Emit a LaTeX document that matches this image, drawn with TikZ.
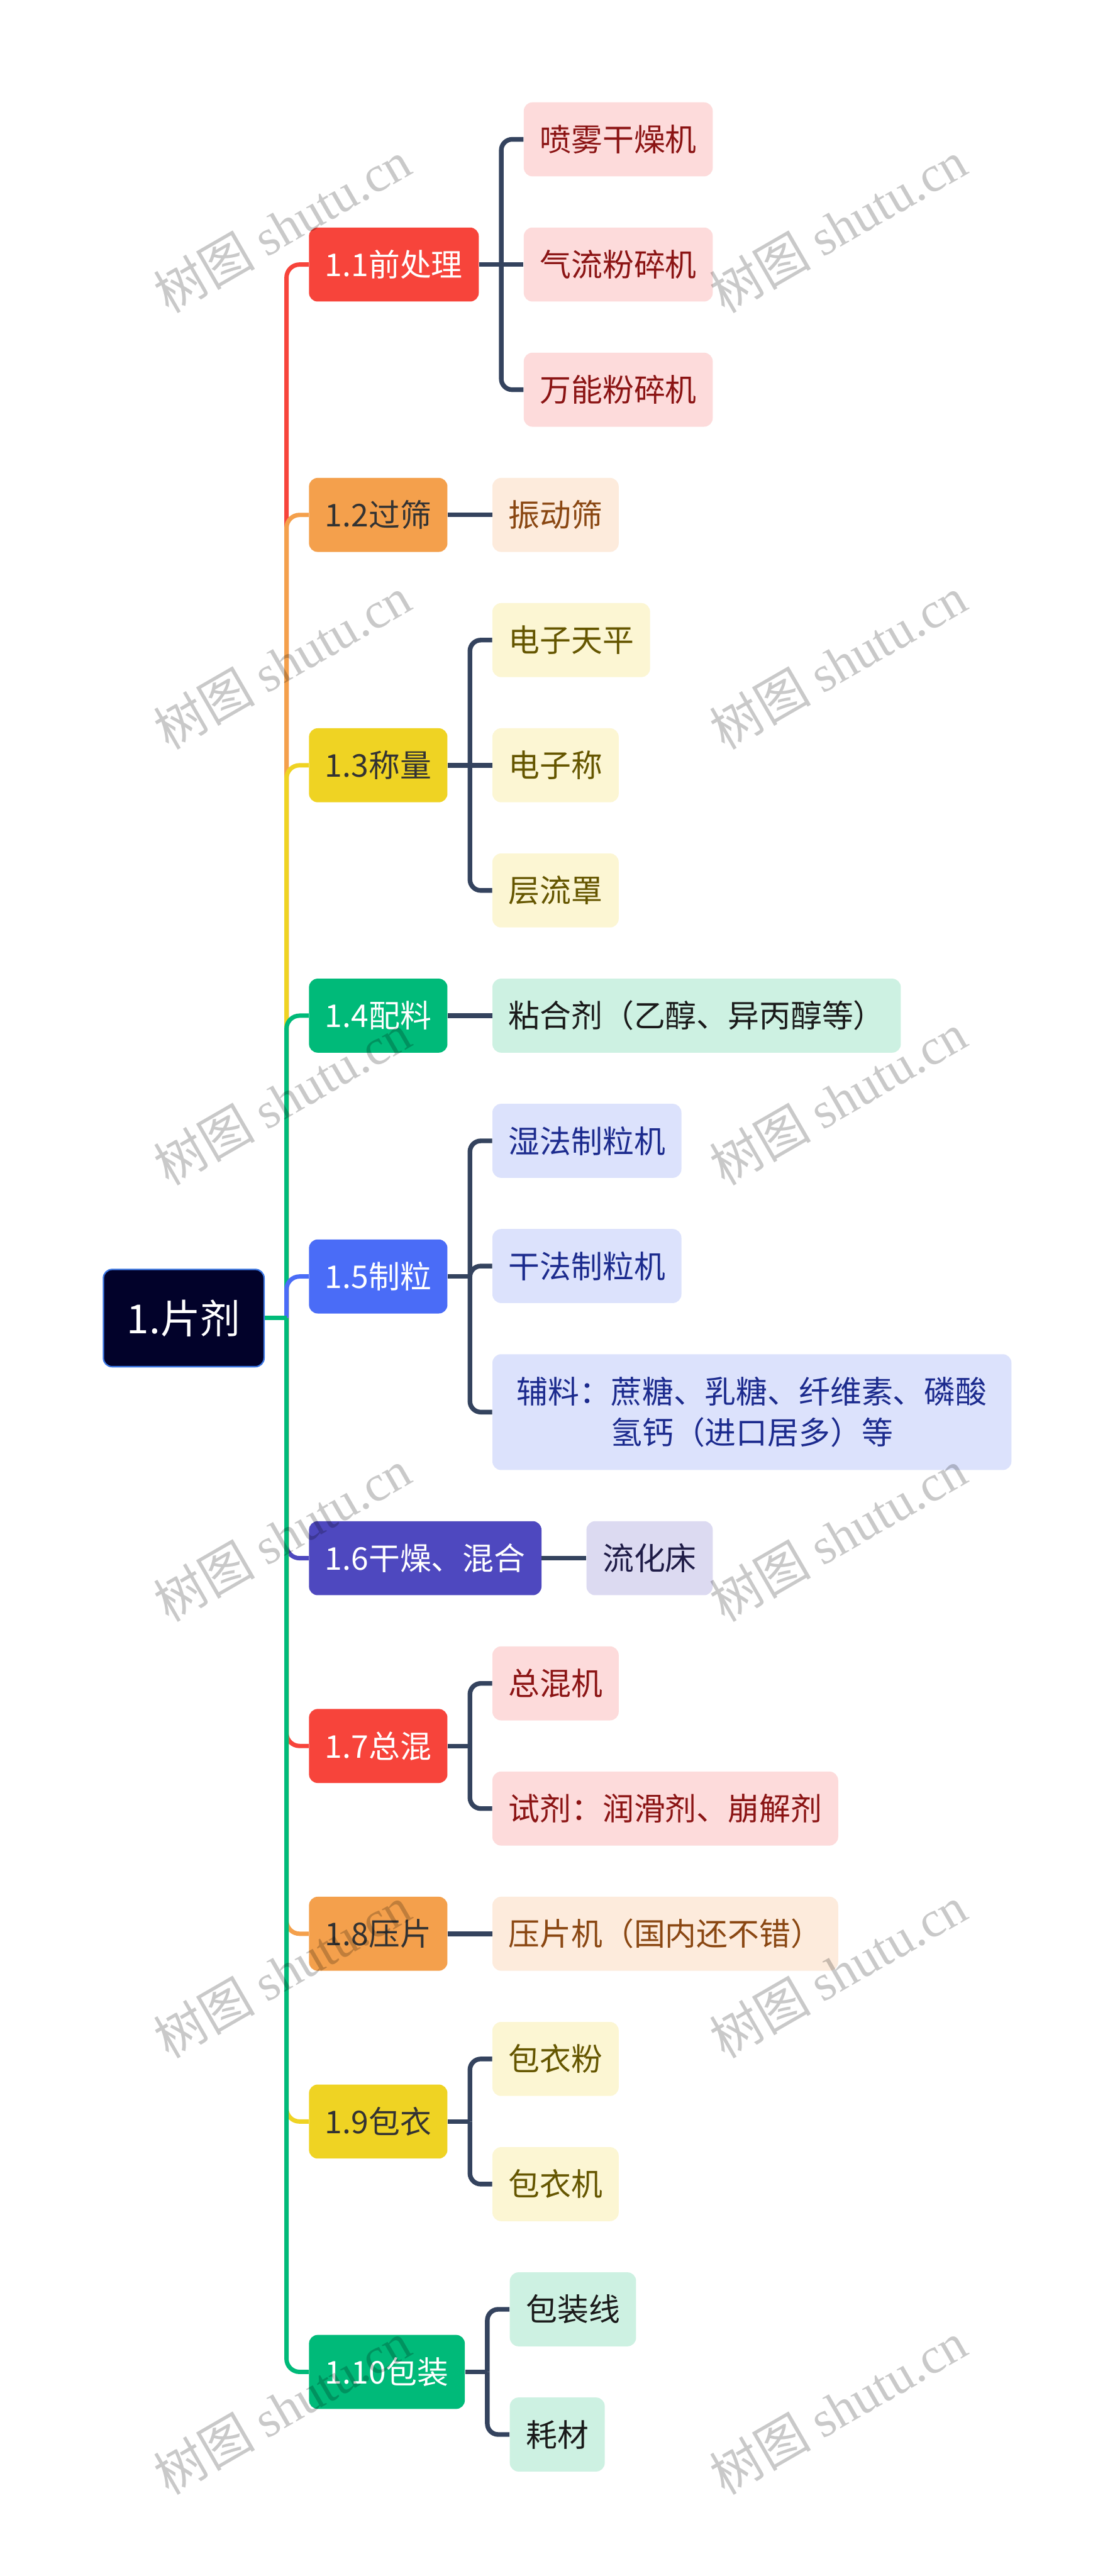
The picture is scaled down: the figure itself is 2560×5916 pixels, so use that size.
\documentclass[tikz,border=0pt]{standalone}
\usepackage{fontspec}
\setmainfont{Noto Sans CJK SC}
\newfontfamily\wmserif{Liberation Serif}
\usetikzlibrary{calc}
\definecolor{cRed}{HTML}{F7443B}
\definecolor{cOrange}{HTML}{F4A04C}
\definecolor{cYellow}{HTML}{EFD323}
\definecolor{cGreen}{HTML}{00BA79}
\definecolor{cBlue}{HTML}{4A6CF7}
\definecolor{cIndigo}{HTML}{4E48BF}
\definecolor{lRed}{HTML}{FDDBDB}
\definecolor{lOrange}{HTML}{FDEBDC}
\definecolor{lYellow}{HTML}{FCF6D3}
\definecolor{lGreen}{HTML}{CDF1E2}
\definecolor{lBlue}{HTML}{DCE2FC}
\definecolor{lIndigo}{HTML}{DCDAF1}
\definecolor{tRed}{HTML}{8B1414}
\definecolor{tOrange}{HTML}{8A4712}
\definecolor{tYellow}{HTML}{655600}
\definecolor{tGreen}{HTML}{1A1A1A}
\definecolor{tBlue}{HTML}{1C2B8E}
\definecolor{tIndigo}{HTML}{1F1C47}
\definecolor{linkc}{HTML}{34435E}
\definecolor{rootfill}{HTML}{02022A}
\definecolor{rootborder}{HTML}{3B76E3}
\definecolor{darktext}{HTML}{333333}
\tikzset{
  nbox/.style={rounded corners=6pt, minimum height=51pt, inner xsep=11.1pt, inner ysep=0pt,
    font=\fontsize{21.6pt}{28.2pt}\selectfont, anchor=west},
  mainbox/.style={nbox, fill=#1},
  leafbox/.style={nbox, fill=#1},
  mainlink/.style={line width=3pt, rounded corners=9pt},
  leaflink/.style={line width=3.2pt, draw=linkc, rounded corners=7.5pt},
  wm/.style={rotate=30, text=black, opacity=0.21, font=\fontsize{35pt}{35pt}\selectfont},
}
\begin{document}
\begin{tikzpicture}[x=0.3pt, y=-0.3pt]
\fill[white] (0,0) rectangle (2560,5916);
\useasboundingbox (0,0) rectangle (2560,5916);

% root
\node[rounded corners=6pt, fill=rootfill, draw=rootborder, line width=1pt, text=white,
  minimum width=110.7pt, minimum height=67pt, inner sep=0pt,
  font=\fontsize{27.6pt}{30pt}\selectfont] (root) at (422,3027) {1.片剂};
\coordinate (trunk) at (658,3027);

% level 1
\node[mainbox=cRed, text=white] (n1) at (709,607.5) {1.1前处理};
\node[mainbox=cOrange, text=darktext] (n2) at (709,1182.5) {1.2过筛};
\node[mainbox=cYellow, text=darktext] (n3) at (709,1757.5) {1.3称量};
\node[mainbox=cGreen, text=white] (n4) at (709,2332.5) {1.4配料};
\node[mainbox=cBlue, text=white] (n5) at (709,2931.5) {1.5制粒};
\node[mainbox=cIndigo, text=white] (n6) at (709,3578.5) {1.6干燥、混合};
\node[mainbox=cRed, text=white] (n7) at (709,4009.75) {1.7总混};
\node[mainbox=cOrange, text=darktext] (n8) at (709,4441) {1.8压片};
\node[mainbox=cYellow, text=darktext] (n9) at (709,4872.25) {1.9包衣};
\node[mainbox=cGreen, text=white] (n10) at (709,5447.25) {1.10包装};

% leaves
\node[leafbox=lRed, text=tRed, xshift=30.6pt] (l1a) at (n1.east |- 0,320) {喷雾干燥机};
\node[leafbox=lRed, text=tRed, xshift=30.6pt] (l1b) at (n1.east |- 0,607.5) {气流粉碎机};
\node[leafbox=lRed, text=tRed, xshift=30.6pt] (l1c) at (n1.east |- 0,895) {万能粉碎机};
\node[leafbox=lOrange, text=tOrange, xshift=30.6pt] (l2a) at (n2.east |- 0,1182.5) {振动筛};
\node[leafbox=lYellow, text=tYellow, xshift=30.6pt] (l3a) at (n3.east |- 0,1470) {电子天平};
\node[leafbox=lYellow, text=tYellow, xshift=30.6pt] (l3b) at (n3.east |- 0,1757.5) {电子称};
\node[leafbox=lYellow, text=tYellow, xshift=30.6pt] (l3c) at (n3.east |- 0,2045) {层流罩};
\node[leafbox=lGreen, text=tGreen, xshift=30.6pt] (l4a) at (n4.east |- 0,2332.5) {粘合剂（乙醇、异丙醇等）};
\node[leafbox=lBlue, text=tBlue, xshift=30.6pt] (l5a) at (n5.east |- 0,2620) {湿法制粒机};
\node[leafbox=lBlue, text=tBlue, xshift=30.6pt] (l5b) at (n5.east |- 0,2907.5) {干法制粒机};
\node[leafbox=lBlue, text=tBlue, xshift=30.6pt, align=center, inner xsep=16.8pt,
  minimum height=79.8pt] (l5c) at (n5.east |- 0,3243) {辅料：蔗糖、乳糖、纤维素、磷酸\\氢钙（进口居多）等};
\node[leafbox=lIndigo, text=tIndigo, xshift=30.6pt] (l6a) at (n6.east |- 0,3578.5) {流化床};
\node[leafbox=lRed, text=tRed, xshift=30.6pt] (l7a) at (n7.east |- 0,3866) {总混机};
\node[leafbox=lRed, text=tRed, xshift=30.6pt] (l7b) at (n7.east |- 0,4153.5) {试剂：润滑剂、崩解剂};
\node[leafbox=lOrange, text=tOrange, xshift=30.6pt] (l8a) at (n8.east |- 0,4441) {压片机（国内还不错）};
\node[leafbox=lYellow, text=tYellow, xshift=30.6pt] (l9a) at (n9.east |- 0,4728.5) {包衣粉};
\node[leafbox=lYellow, text=tYellow, xshift=30.6pt] (l9b) at (n9.east |- 0,5016) {包衣机};
\node[leafbox=lGreen, text=tGreen, xshift=30.6pt] (l10a) at (n10.east |- 0,5303.5) {包装线};
\node[leafbox=lGreen, text=tGreen, xshift=30.6pt] (l10b) at (n10.east |- 0,5591) {耗材};

% main connectors
\draw[mainlink, draw=cRed] (trunk) |- (n1.west);
\draw[mainlink, draw=cOrange] (trunk) |- (n2.west);
\draw[mainlink, draw=cYellow] (trunk) |- (n3.west);
\draw[mainlink, draw=cGreen] (trunk) |- (n4.west);
\draw[mainlink, draw=cBlue] (trunk) |- (n5.west);
\draw[mainlink, draw=cIndigo] (trunk) |- (n6.west);
\draw[mainlink, draw=cRed] (trunk) |- (n7.west);
\draw[mainlink, draw=cOrange] (trunk) |- (n8.west);
\draw[mainlink, draw=cYellow] (trunk) |- (n9.west);
\draw[mainlink, draw=cGreen] (trunk) |- (n10.west);
\draw[mainlink, draw=cGreen] (root.east) -- (trunk);

% leaf junctions
\foreach \p in {1,3,5,7,9,10} {
  \coordinate (j\p) at ($(n\p.east)+(51,0)$);
  \draw[leaflink] (n\p.east) -- (j\p);
}
\draw[leaflink] (j1) |- (l1a.west);
\draw[leaflink] (j1) -- (l1b.west);
\draw[leaflink] (j1) |- (l1c.west);
\draw[leaflink] (n2.east) -- (l2a.west);
\draw[leaflink] (j3) |- (l3a.west);
\draw[leaflink] (j3) -- (l3b.west);
\draw[leaflink] (j3) |- (l3c.west);
\draw[leaflink] (n4.east) -- (l4a.west);
\draw[leaflink] (j5) |- (l5a.west);
\draw[leaflink] (j5) |- (l5b.west);
\draw[leaflink] (j5) |- (l5c.west);
\draw[leaflink] (n6.east) -- (l6a.west);
\draw[leaflink] (j7) |- (l7a.west);
\draw[leaflink] (j7) |- (l7b.west);
\draw[leaflink] (n8.east) -- (l8a.west);
\draw[leaflink] (j9) |- (l9a.west);
\draw[leaflink] (j9) |- (l9b.west);
\draw[leaflink] (j10) |- (l10a.west);
\draw[leaflink] (j10) |- (l10b.west);

% watermarks
\foreach \r in {0,...,5} {
  \node[wm] (wmL\r) at (648,{520+1002*\r}) {树图 {\wmserif shutu.cn}};
  \node[wm] (wmR\r) at (1925,{520+1002*\r}) {树图 {\wmserif shutu.cn}};
}
\end{tikzpicture}
\end{document}
